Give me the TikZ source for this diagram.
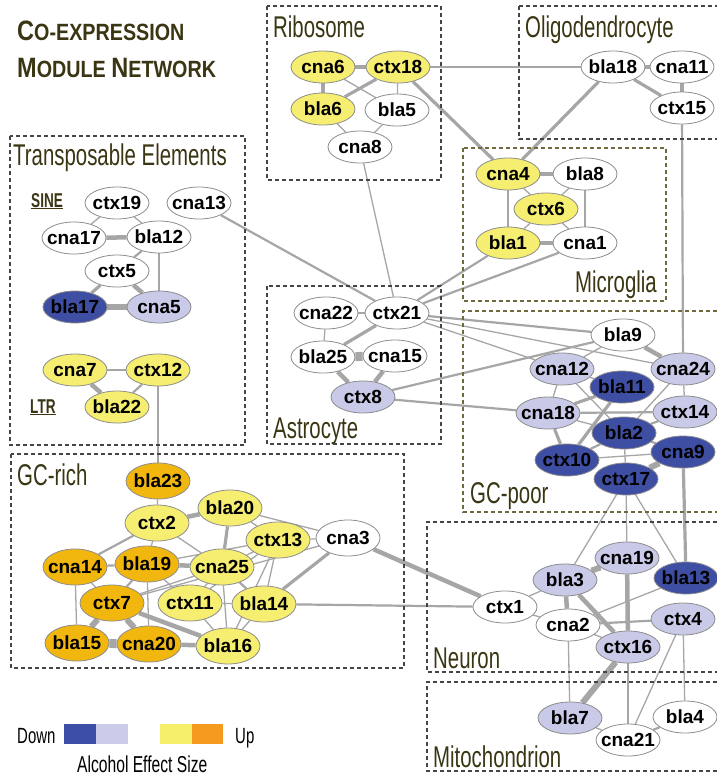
\documentclass[tikz,border=0pt]{standalone}
\usepackage{fontspec}
\setmainfont{Liberation Sans}
\newfontfamily\labfont{Liberation Sans}[FakeStretch=0.68]
\newfontfamily\titfont{Liberation Sans}[FakeStretch=0.84]
\usetikzlibrary{shapes.geometric,backgrounds}
\definecolor{cW}{HTML}{FFFFFF}
\definecolor{cY}{HTML}{F6EE70}
\definecolor{cO}{HTML}{F1B70E}
\definecolor{cL}{HTML}{C9C9E8}
\definecolor{cD}{HTML}{3E4EA3}
\definecolor{nodeb}{HTML}{8C8C8C}
\definecolor{edgec}{HTML}{A6A6A6}
\definecolor{boxc}{HTML}{454545}
\definecolor{olbox}{HTML}{6E6A3E}
\definecolor{labc}{HTML}{3A3512}
\definecolor{lgD}{HTML}{3C4EA6}
\definecolor{lgL}{HTML}{CCCBEA}
\definecolor{lgY}{HTML}{F6EF6A}
\definecolor{lgO}{HTML}{F5991F}
\newcommand\nlab[1]{\makebox[0pt]{#1}}
\tikzset{
  gn/.style={ellipse, draw=nodeb, line width=0.8pt, minimum width=64pt, minimum height=32pt, inner sep=0pt, font=\bfseries\fontsize{19}{19}\selectfont},
  tall/.style={minimum height=36pt},
  e1/.style={draw=edgec, line width=1.3pt},
  e2/.style={draw=edgec, line width=2.2pt},
  e3/.style={draw=edgec, line width=3.2pt},
  e4/.style={draw=edgec, line width=4.5pt},
  e5/.style={draw=edgec, line width=6pt},
  e6/.style={draw=edgec, line width=9pt},
  modbox/.style={draw=boxc, line width=1.2pt, dash pattern=on 4pt off 3pt},
  olmodbox/.style={draw=olbox, line width=1.2pt, dash pattern=on 4pt off 3pt},
  boxlab/.style={inner sep=0pt, text=labc, font=\labfont\fontsize{30}{30}\selectfont},
  sublab/.style={inner sep=0pt, text=labc, font=\labfont\bfseries\fontsize{20}{20}\selectfont},
}
\begin{document}
\begin{tikzpicture}[x=1pt,y=-1pt]
\useasboundingbox (0,0) rectangle (717,779);
% title
\node[anchor=base west, inner sep=0pt, text=labc] (t1) at (17,40) {\titfont\bfseries\fontsize{28}{28}\selectfont C\fontsize{23.5}{23.5}\selectfont O-EXPRESSION};
\node[anchor=base west, inner sep=0pt, text=labc] (t2) at (17,77) {\titfont\bfseries\fontsize{28}{28}\selectfont M\fontsize{23.5}{23.5}\selectfont ODULE \fontsize{28}{28}\selectfont N\fontsize{23.5}{23.5}\selectfont ETWORK};
% module boxes
\draw[modbox] (267,6) rectangle (441,180);
\draw[modbox] (519,6) -- (717,6) (519,6) -- (519,139) -- (717,139);
\draw[modbox] (10,136) rectangle (245,445);
\draw[olmodbox] (463,148) rectangle (666,301);
\draw[modbox] (267,286) rectangle (441,444);
\draw[olmodbox] (717,311) -- (463,311) -- (463,512) -- (717,512);
\draw[modbox] (11,454) rectangle (404,668);
\draw[modbox] (717,522) -- (427,522) -- (427,672) -- (717,672);
\draw[modbox] (717,682) -- (427,682) -- (427,771) -- (717,771);
% box labels
\node[boxlab, anchor=base west] (lRib) at (273,37) {Ribosome};
\node[boxlab, anchor=base west] (lOli) at (525,37) {Oligodendrocyte};
\node[boxlab, anchor=base west] (lTE) at (13,165) {Transposable Elements};
\node[boxlab, anchor=base east] (lMic) at (657,292) {Microglia};
\node[boxlab, anchor=base west] (lAst) at (273,438) {Astrocyte};
\node[boxlab, anchor=base west] (lGCp) at (470,503) {GC-poor};
\node[boxlab, anchor=base west] (lGCr) at (17,485) {GC-rich};
\node[boxlab, anchor=base west] (lNeu) at (433,668) {Neuron};
\node[boxlab, anchor=base west] (lMit) at (433,767) {Mitochondrion};
\node[sublab, anchor=base west] (lSINE) at (31,207) {\underline{SINE}};
\node[sublab, anchor=base west] (lLTR) at (30,413) {\underline{LTR}};
% legend
\node[anchor=base west, inner sep=0pt, text=black, font=\labfont\fontsize{22}{22}\selectfont] (lDown) at (17,743) {Down};
\fill[lgD] (64,724) rectangle (96,744);
\fill[lgL] (96,724) rectangle (128,744);
\fill[lgY] (160,724) rectangle (192,744);
\fill[lgO] (192,724) rectangle (223,744);
\node[anchor=base west, inner sep=0pt, text=black, font=\labfont\fontsize{22}{22}\selectfont] (lUp) at (235,743) {Up};
\node[anchor=base west, inner sep=0pt, text=black, font=\labfont\fontsize{23}{23}\selectfont] (lAES) at (77,772) {Alcohol Effect Size};
% ---- nodes ----
% Ribosome
\node[gn, fill=cY] (cna6) at (323,67) {\nlab{cna6}};
\node[gn, fill=cY] (ctx18) at (398,67) {\nlab{ctx18}};
\node[gn, fill=cY] (bla6) at (323,109) {\nlab{bla6}};
\node[gn, fill=cW] (bla5) at (397,110) {\nlab{bla5}};
\node[gn, fill=cW] (cna8) at (360,147) {\nlab{cna8}};
% Oligodendrocyte
\node[gn, fill=cW] (bla18) at (613,67) {\nlab{bla18}};
\node[gn, fill=cW] (cna11) at (682,67) {\nlab{cna11}};
\node[gn, fill=cW] (ctx15) at (682,108) {\nlab{ctx15}};
% Microglia
\node[gn, fill=cY] (cna4) at (508,174) {\nlab{cna4}};
\node[gn, fill=cW] (bla8) at (585,174) {\nlab{bla8}};
\node[gn, fill=cY] (ctx6) at (546,209) {\nlab{ctx6}};
\node[gn, fill=cY] (bla1) at (508,243) {\nlab{bla1}};
\node[gn, fill=cW] (cna1) at (585,243) {\nlab{cna1}};
% Transposable elements
\node[gn, fill=cW] (ctx19) at (117,203) {\nlab{ctx19}};
\node[gn, fill=cW] (cna13) at (199,203) {\nlab{cna13}};
\node[gn, fill=cW] (cna17) at (74,238) {\nlab{cna17}};
\node[gn, fill=cW] (bla12) at (159,237) {\nlab{bla12}};
\node[gn, fill=cW] (ctx5) at (117,271) {\nlab{ctx5}};
\node[gn, fill=cD] (bla17) at (75,307) {\nlab{bla17}};
\node[gn, fill=cL] (cna5) at (159,307) {\nlab{cna5}};
\node[gn, fill=cY] (cna7) at (75,370) {\nlab{cna7}};
\node[gn, fill=cY] (ctx12) at (158,370) {\nlab{ctx12}};
\node[gn, fill=cY] (bla22) at (117,407) {\nlab{bla22}};
% Astrocyte
\node[gn, fill=cW] (cna22) at (326,313) {\nlab{cna22}};
\node[gn, fill=cW] (ctx21) at (397,313) {\nlab{ctx21}};
\node[gn, fill=cW] (bla25) at (323,357) {\nlab{bla25}};
\node[gn, fill=cW] (cna15) at (395,356) {\nlab{cna15}};
\node[gn, fill=cL] (ctx8) at (363,397) {\nlab{ctx8}};
% GC-poor
\node[gn, fill=cW] (bla9) at (623,335) {\nlab{bla9}};
\node[gn, fill=cL] (cna12) at (562,369) {\nlab{cna12}};
\node[gn, fill=cL] (cna24) at (683,369) {\nlab{cna24}};
\node[gn, fill=cD] (bla11) at (622,387) {\nlab{bla11}};
\node[gn, fill=cL] (cna18) at (548,413) {\nlab{cna18}};
\node[gn, fill=cL] (ctx14) at (685,412) {\nlab{ctx14}};
\node[gn, fill=cD] (bla2) at (624,433) {\nlab{bla2}};
\node[gn, fill=cD] (ctx10) at (567,460) {\nlab{ctx10}};
\node[gn, fill=cD] (cna9) at (683,452) {\nlab{cna9}};
\node[gn, fill=cD] (ctx17) at (626,479) {\nlab{ctx17}};
% GC-rich
\node[gn, tall, fill=cO] (bla23) at (158,481) {\nlab{bla23}};
\node[gn, tall, fill=cY] (bla20) at (230,508) {\nlab{bla20}};
\node[gn, tall, fill=cY] (ctx2) at (157,523) {\nlab{ctx2}};
\node[gn, tall, fill=cY] (ctx13) at (278,540) {\nlab{ctx13}};
\node[gn, tall, fill=cW] (cna3) at (348,538) {\nlab{cna3}};
\node[gn, tall, fill=cO] (cna14) at (75,567) {\nlab{cna14}};
\node[gn, tall, fill=cO] (bla19) at (147,564) {\nlab{bla19}};
\node[gn, tall, fill=cY] (cna25) at (222,567) {\nlab{cna25}};
\node[gn, tall, fill=cO] (ctx7) at (112,603) {\nlab{ctx7}};
\node[gn, tall, fill=cY] (ctx11) at (190,603) {\nlab{ctx11}};
\node[gn, tall, fill=cY] (bla14) at (264,604) {\nlab{bla14}};
\node[gn, tall, fill=cO] (bla15) at (77,643) {\nlab{bla15}};
\node[gn, tall, fill=cO] (cna20) at (149,644) {\nlab{cna20}};
\node[gn, tall, fill=cY] (bla16) at (228,646) {\nlab{bla16}};
% Neuron
\node[gn, fill=cL] (cna19) at (627,558) {\nlab{cna19}};
\node[gn, fill=cD] (bla13) at (686,578) {\nlab{bla13}};
\node[gn, fill=cL] (bla3) at (565,580) {\nlab{bla3}};
\node[gn, fill=cW] (ctx1) at (505,607) {\nlab{ctx1}};
\node[gn, fill=cW] (cna2) at (568,625) {\nlab{cna2}};
\node[gn, fill=cL] (ctx4) at (683,619) {\nlab{ctx4}};
\node[gn, fill=cL] (ctx16) at (628,647) {\nlab{ctx16}};
% Mitochondrion
\node[gn, fill=cL] (bla7) at (570,718) {\nlab{bla7}};
\node[gn, fill=cW] (bla4) at (685,717) {\nlab{bla4}};
\node[gn, fill=cW] (cna21) at (628,740) {\nlab{cna21}};
% ---- edges ----
\begin{pgfonlayer}{background}
% Ribosome
\draw[e4] (cna6) -- (ctx18);
\draw[e3] (cna6) -- (bla6);
\draw[e1] (cna6) -- (bla5);
\draw[e3] (ctx18) -- (bla6);
\draw[e1] (ctx18) -- (bla5);
\draw[e1] (bla6) -- (cna8);
\draw[e1] (bla5) -- (cna8);
\draw[e2] (ctx18) -- (bla18);
\draw[e3] (ctx18) -- (cna4);
\draw[e1] (cna8) -- (ctx21);
% Oligodendrocyte
\draw[e4] (bla18) -- (cna11);
\draw[e4] (cna11) -- (ctx15);
\draw[e3] (bla18) -- (ctx15);
\draw[e3] (bla18) -- (cna4);
\draw[e2] (ctx15) -- (cna24);
% Microglia
\draw[e4] (cna4) -- (bla8);
\draw[e2] (cna4) -- (bla1);
\draw[e2] (bla8) -- (cna1);
\draw[e1] (cna4) -- (ctx6);
\draw[e1] (bla8) -- (ctx6);
\draw[e1] (bla1) -- (ctx6);
\draw[e1] (cna1) -- (ctx6);
\draw[e4] (bla1) -- (cna1);
\draw[e2] (bla1) -- (ctx21);
\draw[e2] (cna1) -- (ctx21);
% Transposable elements
\draw[e1] (ctx19) -- (cna17);
\draw[e1] (ctx19) -- (bla12);
\draw[e4] (cna17) -- (bla12);
\draw[e2] (bla12) -- (ctx5);
\draw[e2] (bla12.south) -- (cna5.north);
\draw[e3] (ctx5) -- (bla17);
\draw[e4] (ctx5) -- (cna5);
\draw[e5] (bla17) -- (cna5);
\draw[e2] (cna13) -- (ctx21);
\draw[e2] (cna7) -- (ctx12);
\draw[e4] (cna7) -- (bla22);
\draw[e2] (ctx12) -- (bla22);
\draw[e2] (ctx12) -- (bla23);
% Astrocyte
\draw[e1] (cna22) -- (ctx21);
\draw[e1] (cna22) -- (bla25);
\draw[e3] (ctx21) -- (bla25);
\draw[e6] (bla25) -- (cna15);
\draw[e4] (bla25) -- (ctx8);
\draw[e4] (cna15) -- (ctx8);
\draw[e2] (ctx8) -- (bla9);
\draw[e2] (ctx8) -- (cna18);
\draw[e2] (ctx21) -- (bla9);
\draw[e1] (ctx21) -- (cna24);
\draw[e1] (ctx21) -- (cna12);
% GC-poor
\draw[e1] (bla9) -- (cna12);
\draw[e4] (bla9) -- (cna24);
\draw[e1] (cna12) -- (bla11);
\draw[e1] (cna12) -- (cna18);
\draw[e1] (cna12) -- (bla2);
\draw[e1] (cna24) -- (ctx14);
\draw[e1] (cna24) -- (bla2);
\draw[e3] (bla11) -- (cna18);
\draw[e3] (bla11) -- (ctx10);
\draw[e2] (cna18) -- (ctx14);
\draw[e1] (cna18) -- (bla2);
\draw[e3] (cna18) -- (ctx10);
\draw[e2] (ctx10) -- (bla2);
\draw[e1] (ctx10) -- (cna9);
\draw[e2] (bla2) -- (ctx14);
\draw[e2] (bla2) -- (cna9);
\draw[e1] (bla2) -- (ctx17);
\draw[e5] (cna9) -- (ctx17);
\draw[e3] (cna9) -- (bla13);
\draw[e1] (ctx17) -- (bla3);
\draw[e1] (ctx17) -- (cna19);
\draw[e1] (ctx17) -- (bla13);
% GC-rich
\draw[e1] (bla23) -- (ctx2);
\draw[e4] (ctx2) -- (bla20);
\draw[e2] (ctx2) -- (cna14);
\draw[e1] (ctx2) -- (bla19);
\draw[e1] (ctx2) -- (cna25);
\draw[e3] (bla20) -- (cna25);
\draw[e1] (bla20) -- (ctx13);
\draw[e1] (bla20) -- (cna3);
\draw[e1] (ctx13) -- (cna3);
\draw[e1] (ctx13) -- (cna25);
\draw[e1] (ctx13) -- (bla19);
\draw[e1] (ctx13) -- (bla14);
\draw[e1] (ctx13) -- (bla16);
\draw[e1] (ctx13) -- (ctx11);
\draw[e3] (cna3) -- (bla14);
\draw[e1] (cna3) -- (ctx7);
\draw[e2] (cna14) -- (bla19);
\draw[e1] (cna14) -- (ctx7);
\draw[e1] (cna14) -- (bla15);
\draw[e4] (bla19) -- (cna25);
\draw[e2] (bla19) -- (ctx7);
\draw[e1] (bla19) -- (ctx11);
\draw[e1] (bla19) -- (cna20);
\draw[e1] (cna25) -- (ctx7);
\draw[e1] (cna25) -- (ctx11);
\draw[e2] (cna25) -- (bla14);
\draw[e1] (cna25) -- (bla16);
\draw[e5] (ctx7) -- (bla15);
\draw[e5] (ctx7) -- (cna20);
\draw[e4] (ctx7) -- (bla16);
\draw[e6] (bla15) -- (cna20);
\draw[e4] (cna20) -- (bla16);
\draw[e1] (ctx11) -- (bla14);
\draw[e1] (ctx11) -- (bla16);
\draw[e1] (bla14) -- (bla16);
\draw[e2] (bla14) -- (ctx1);
\draw[e4] (cna3) -- (ctx1);
% Neuron
\draw[e5] (bla3) -- (cna19);
\draw[e1] (bla3) -- (ctx1);
\draw[e4] (bla3) -- (cna2);
\draw[e4] (bla3) -- (ctx16);
\draw[e4] (cna19) -- (ctx16);
\draw[e1] (ctx1) -- (cna2);
\draw[e1] (cna2) -- (bla13);
\draw[e2] (cna2) -- (ctx4);
\draw[e1] (cna2) -- (ctx16);
\draw[e1] (cna2) -- (bla7);
\draw[e5] (ctx16) -- (bla7);
\draw[e1] (ctx16) -- (cna21);
\draw[e1] (ctx4) -- (cna21);
\draw[e1] (ctx4) -- (bla4);
% Mitochondrion
\draw[e1] (bla7) -- (cna21);
\draw[e2] (bla4) -- (cna21);
\end{pgfonlayer}
\end{tikzpicture}
\end{document}
